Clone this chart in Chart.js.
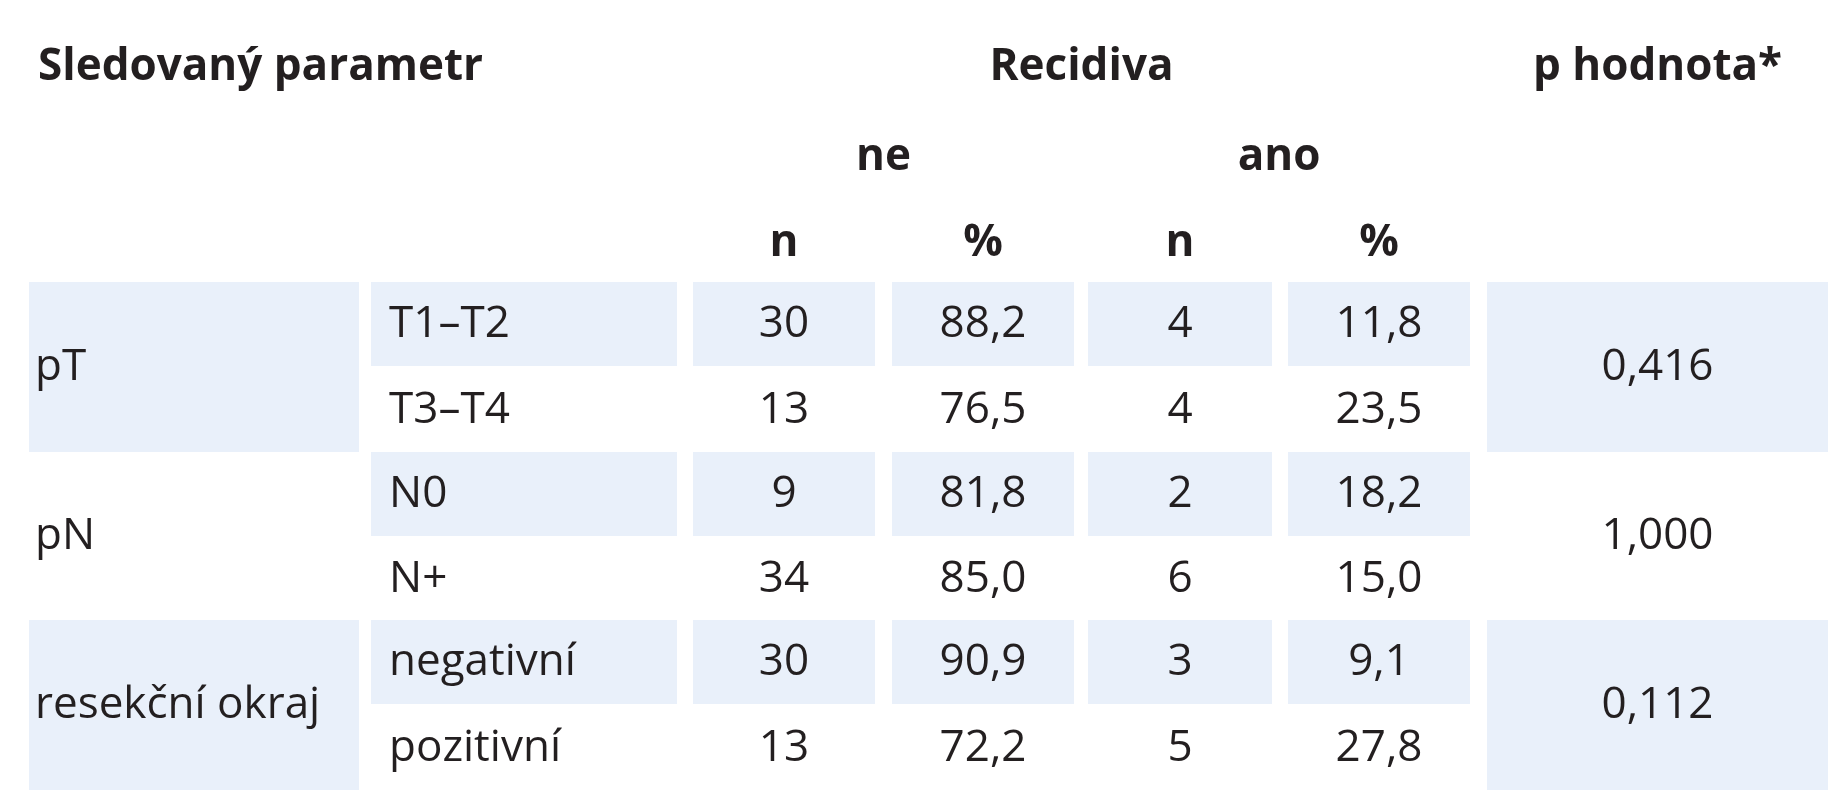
<!DOCTYPE html>
<html><head><meta charset="utf-8">
<script src="https://cdn.jsdelivr.net/npm/chart.js@4.4.1/dist/chart.umd.min.js"></script>
<style>html,body{margin:0;background:#fff}#wrap{width:1837px;height:800px}</style>
</head><body><div id="wrap"><canvas id="tbl"></canvas></div>
<script>
// table data
const groups = ["pT", "pN", "resekční okraj"];
const categories = ["T1–T2", "T3–T4", "N0", "N+", "negativní", "pozitivní"];
const neN = [30, 13, 9, 34, 30, 13];
const nePct = ["88,2", "76,5", "81,8", "85,0", "90,9", "72,2"];
const anoN = [4, 4, 2, 6, 3, 5];
const anoPct = ["11,8", "23,5", "18,2", "15,0", "9,1", "27,8"];
const pValues = ["0,416", "1,000", "0,112"];

// layout (pixels in the 1837x800 frame)
const colL = [29, 371, 693, 892, 1088, 1288, 1487];
const colR = [359, 677, 875, 1074, 1272, 1470, 1828];
const rowTop = [282, 368, 452, 538, 620, 706];
const rowBot = [366, 452, 536, 620, 704, 790];
const shade = '#e9f0fa', ink = '#231f20';
const FONT = "'Liberation Sans Narrow', 'Open Sans', sans-serif";

const tablePlugin = {
  id: 'table',
  afterDraw(chart) {
    const { ctx, scales: { x, y } } = chart;
    const X = v => x.getPixelForValue(v), Y = v => y.getPixelForValue(v);
    const rect = (c, r0, r1) => { ctx.fillStyle = shade; ctx.fillRect(X(colL[c]), Y(rowTop[r0]), X(colR[c]) - X(colL[c]), Y(rowBot[r1]) - Y(rowTop[r0])); };
    const txt = (s, px, py, align, bold) => {
      ctx.font = (bold ? 'bold ' : '') + '44px ' + FONT;
      ctx.fillStyle = ink; ctx.textAlign = align; ctx.textBaseline = 'middle';
      ctx.fillText(s, X(px), Y(py));
    };
    ctx.save();
    // shaded cells
    [0, 2].forEach(g => { rect(0, g * 2, g * 2 + 1); rect(6, g * 2, g * 2 + 1); });
    [0, 2, 4].forEach(r => { for (let c = 1; c <= 5; c++) rect(c, r, r); });
    // header
    const mid = c => (colL[c] + colR[c]) / 2;
    txt('Sledovaný parametr', 38, 67, 'left', true);
    txt('Recidiva', (colL[2] + colR[5]) / 2, 67, 'center', true);
    txt('p hodnota*', mid(6), 67, 'center', true);
    txt('ne', (colL[2] + colR[3]) / 2, 157, 'center', true);
    txt('ano', (colL[4] + colR[5]) / 2, 157, 'center', true);
    ['n', '%', 'n', '%'].forEach((s, i) => txt(s, mid(2 + i), 243, 'center', true));
    // body
    groups.forEach((g, i) => {
      const cy = (rowTop[i * 2] + rowBot[i * 2 + 1]) / 2;
      txt(g, 35, cy, 'left', false);
      txt(pValues[i], mid(6), cy, 'center', false);
    });
    categories.forEach((c, r) => {
      const cy = (rowTop[r] + rowBot[r]) / 2;
      txt(c, 389, cy, 'left', false);
      txt(String(neN[r]), mid(2), cy, 'center', false);
      txt(nePct[r], mid(3), cy, 'center', false);
      txt(String(anoN[r]), mid(4), cy, 'center', false);
      txt(anoPct[r], mid(5), cy, 'center', false);
    });
    ctx.restore();
  }
};

new Chart(document.getElementById('tbl'), {
  type: 'scatter',
  data: { datasets: [{ data: [], pointRadius: 0 }] },
  options: {
    responsive: true, maintainAspectRatio: false, animation: false,
    layout: { padding: 0 },
    plugins: { legend: { display: false }, tooltip: { enabled: false } },
    scales: {
      x: { type: 'linear', min: 0, max: 1837, display: false },
      y: { type: 'linear', min: 0, max: 800, reverse: true, display: false }
    }
  },
  plugins: [tablePlugin]
});
</script></body></html>
